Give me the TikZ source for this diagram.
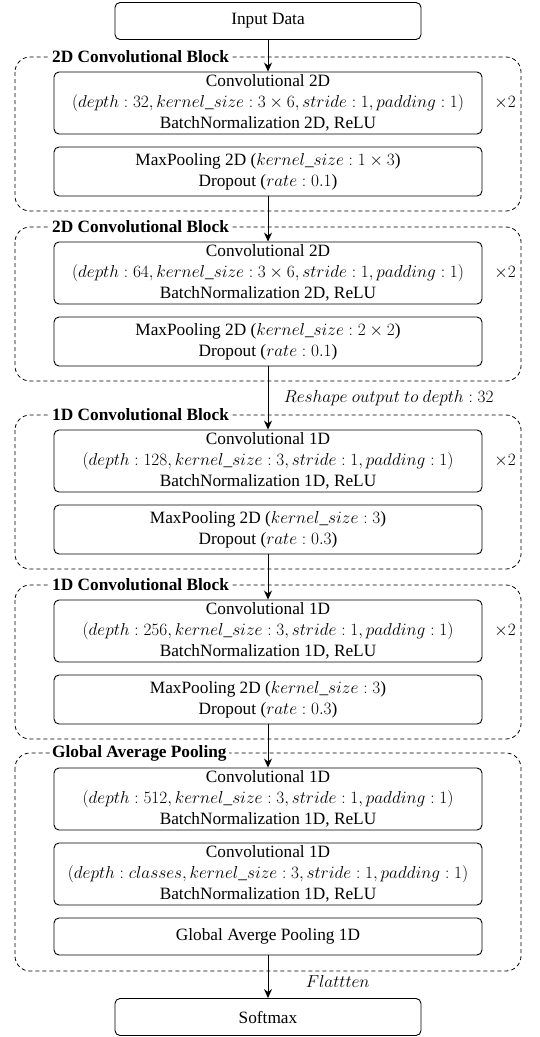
\documentclass[tikz,border=0pt]{standalone}
\usepackage{fontspec}
\setmainfont{LiberationSerif}[Extension=.ttf, UprightFont=*-Regular, BoldFont=*-Bold, ItalicFont=*-Italic, BoldItalicFont=*-BoldItalic, Ligatures=TeX]
\usetikzlibrary{arrows.meta}
\begin{document}
\begin{tikzpicture}[x=1pt,y=-1pt,
  every node/.style={font=\rmfamily\fontsize{17.28}{21}\selectfont},
  box/.style={draw, rounded corners=5pt, line width=0.9pt, minimum width=428pt, align=center, inner sep=0pt},
  topbox/.style={draw, rounded corners=5pt, line width=0.9pt, minimum width=306pt, minimum height=37pt, align=center, inner sep=0pt},
  group/.style={draw, dash pattern=on 4pt off 3pt, rounded corners=15pt, line width=0.8pt},
  grouplabel/.style={fill=white, anchor=west, inner sep=2pt, font=\rmfamily\fontsize{17.28}{21}\selectfont\bfseries},
  arr/.style={-{Stealth[length=9pt,width=8pt]}, line width=0.9pt},
  times/.style={font=\rmfamily\fontsize{17.28}{21}\selectfont}
]
\useasboundingbox (0,0) rectangle (540,1037);

% groups
\draw[group] (15,57) rectangle (521,211);
\draw[group] (15,227) rectangle (521,381);
\draw[group] (15,415) rectangle (521,569);
\draw[group] (15,585) rectangle (521,739);
\draw[group] (15,753) rectangle (521,971);

\node[grouplabel] (l1) at (50,57) {2D Convolutional Block};
\node[grouplabel] (l2) at (50,227) {2D Convolutional Block};
\node[grouplabel] (l3) at (50,415) {1D Convolutional Block};
\node[grouplabel] (l4) at (50,585) {1D Convolutional Block};
\node[grouplabel] (l5) at (50,753) {Global Average Pooling};

% boxes
\node[topbox] (input) at (268,21) {Input Data};

\node[box, minimum height=62pt] (c1) at (268,103) {Convolutional 2D\\ $(depth : 32, kernel\_size : 3\times 6, stride : 1, padding : 1)$\\ BatchNormalization 2D, ReLU};
\node[box, minimum height=49pt] (m1) at (268,171.5) {MaxPooling 2D ($kernel\_size : 1\times 3$)\\ Dropout ($rate : 0.1$)};
\node[times] (x1) at (505,103) {$\times 2$};

\node[box, minimum height=62pt] (c2) at (268,273) {Convolutional 2D\\ $(depth : 64, kernel\_size : 3\times 6, stride : 1, padding : 1)$\\ BatchNormalization 2D, ReLU};
\node[box, minimum height=49pt] (m2) at (268,341.5) {MaxPooling 2D ($kernel\_size : 2\times 2$)\\ Dropout ($rate : 0.1$)};
\node[times] (x2) at (505,273) {$\times 2$};

\node[box, minimum height=62pt] (c3) at (268,461) {Convolutional 1D\\ $(depth : 128, kernel\_size : 3, stride : 1, padding : 1)$\\ BatchNormalization 1D, ReLU};
\node[box, minimum height=49pt] (m3) at (268,529.5) {MaxPooling 2D ($kernel\_size : 3$)\\ Dropout ($rate : 0.3$)};
\node[times] (x3) at (505,461) {$\times 2$};

\node[box, minimum height=62pt] (c4) at (268,631) {Convolutional 1D\\ $(depth : 256, kernel\_size : 3, stride : 1, padding : 1)$\\ BatchNormalization 1D, ReLU};
\node[box, minimum height=49pt] (m4) at (268,699.5) {MaxPooling 2D ($kernel\_size : 3$)\\ Dropout ($rate : 0.3$)};
\node[times] (x4) at (505,631) {$\times 2$};

\node[box, minimum height=62pt] (c5) at (268,799) {Convolutional 1D\\ $(depth : 512, kernel\_size : 3, stride : 1, padding : 1)$\\ BatchNormalization 1D, ReLU};
\node[box, minimum height=62pt] (c6) at (268,874) {Convolutional 1D\\ $(depth : classes, kernel\_size : 3, stride : 1, padding : 1)$\\ BatchNormalization 1D, ReLU};
\node[box, minimum height=37pt] (gp) at (268,936.5) {Global Averge Pooling 1D};

\node[topbox] (soft) at (268,1017) {Softmax};

% arrows
\draw[arr] (input) -- (c1);
\draw[arr] (m1) -- (c2);
\draw[arr] (m2) -- node[anchor=west, xshift=12pt] (rs) {$Reshape\ output\ to\ depth : 32$} (c3);
\draw[arr] (m3) -- (c4);
\draw[arr] (m4) -- (c5);
\draw[arr] (gp) -- node[anchor=west, xshift=34pt, yshift=-5pt] (fl) {$Flattten$} (soft);
\end{tikzpicture}
\end{document}
